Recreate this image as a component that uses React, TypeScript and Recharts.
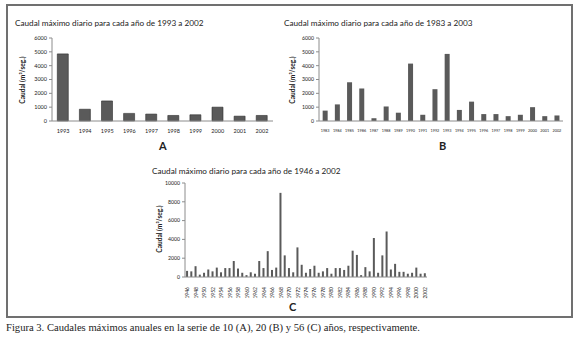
import React from "react"
import { Bar, BarChart, XAxis, YAxis } from "recharts"

// Panel A: 1993-2002
const yearsA = ["1993", "1994", "1995", "1996", "1997", "1998", "1999", "2000", "2001", "2002"]
const valuesA = [4850, 850, 1450, 550, 500, 400, 450, 1000, 350, 400]

// Panel B: 1983-2002
const yearsB = [
  "1983", "1984", "1985", "1986", "1987", "1988", "1989", "1990", "1991", "1992",
  "1993", "1994", "1995", "1996", "1997", "1998", "1999", "2000", "2001", "2002",
]
const valuesB = [750, 1200, 2800, 2350, 200, 1050, 600, 4150, 450, 2300, 4850, 800, 1400, 500, 500, 350, 450, 1000, 350, 400]

// Panel C: 1946-2002
const yearsC = [
  "1946", "1947", "1948", "1949", "1950", "1951", "1952", "1953", "1954", "1955",
  "1956", "1957", "1958", "1959", "1960", "1961", "1962", "1963", "1964", "1965",
  "1966", "1967", "1968", "1969", "1970", "1971", "1972", "1973", "1974", "1975",
  "1976", "1977", "1978", "1979", "1980", "1981", "1982", "1983", "1984", "1985",
  "1986", "1987", "1988", "1989", "1990", "1991", "1992", "1993", "1994", "1995",
  "1996", "1997", "1998", "1999", "2000", "2001", "2002",
]
const valuesC = [
  650, 600, 1150, 250, 450, 800, 600, 1000, 500, 950,
  950, 1700, 900, 450, 200, 500, 350, 1700, 950, 2750,
  750, 1000, 8950, 2300, 950, 500, 3150, 1300, 450, 850,
  1200, 450, 600, 950, 350, 950, 950, 750, 1200, 2800,
  2350, 200, 1050, 600, 4150, 450, 2300, 4850, 800, 1400,
  550, 550, 350, 450, 1000, 350, 400,
]

const ticksAB = [0, 1000, 2000, 3000, 4000, 5000, 6000]
const ticksC = [0, 1000, 2000, 3000, 4000, 5000, 6000, 7000, 8000, 9000, 10000]

const dataA = yearsA.map((year, i) => ({ year, caudal: valuesA[i] }))
const dataB = yearsB.map((year, i) => ({ year, caudal: valuesB[i] }))
const dataC = yearsC.map((year, i) => ({ year, caudal: valuesC[i] }))

const FONT = "Lato, 'Liberation Sans', sans-serif"
const AXIS = "#8c8c8c"
const BAR = "#5a5a5a"
const INK = "#222"

const abs = (left: number, top: number): React.CSSProperties => ({ position: "absolute", left, top })

function Title({ x, y, text }: { x: number; y: number; text: string }) {
  return (
    <div style={{ ...abs(x, y), fontFamily: FONT, fontSize: 8.2, color: INK, whiteSpace: "nowrap", lineHeight: "10px" }}>
      {text}
    </div>
  )
}

function Letter({ x, y, text }: { x: number; y: number; text: string }) {
  return (
    <div style={{ ...abs(x, y), fontFamily: FONT, fontSize: 11, fontWeight: 700, color: INK, lineHeight: "12px" }}>
      {text}
    </div>
  )
}

function YLabel({ x, y }: { x: number; y: number }) {
  // rotated axis title, centred on (x, y)
  return (
    <div
      style={{
        ...abs(x, y),
        transform: "translate(-50%, -50%) rotate(-90deg)",
        fontFamily: FONT,
        fontSize: 6.6,
        fontWeight: 700,
        color: INK,
        whiteSpace: "nowrap",
        lineHeight: "8px",
      }}
    >
      Caudal (m³/seg.)
    </div>
  )
}

const RotatedTick = (props: any) => {
  const { x, y, payload } = props
  return (
    <g transform={`translate(${x},${y + 2})`}>
      <text x={0} y={0} dy={2} textAnchor="end" transform="rotate(-90)" fontSize={5} fontFamily={FONT} fill={INK}>
        {payload.value}
      </text>
    </g>
  )
}

export default function App() {
  return (
    <div style={{ position: "absolute", left: 0, top: 0, width: 580, height: 347, background: "#fff" }}>
      <div
        style={{
          ...abs(6, 4),
          width: 567,
          height: 314,
          boxSizing: "border-box",
          border: "2px solid #707070",
        }}
      />

      {/* A */}
      <Title x={15} y={18} text="Caudal máximo diario para cada año de 1993 a 2002" />
      <YLabel x={22} y={80} />
      <div style={abs(0, 0)}>
        <BarChart width={290} height={160} data={dataA} margin={{ top: 38, right: 17, bottom: 27, left: 0 }} barCategoryGap="24%">
          <XAxis
            dataKey="year"
            height={12}
            stroke={AXIS}
            tickLine={false}
            tick={{ fontSize: 5.5, fill: INK, fontFamily: FONT }}
            tickMargin={2}
            interval={0}
          />
          <YAxis
            width={52}
            domain={[0, 6000]}
            ticks={ticksAB}
            stroke={AXIS}
            tickSize={3}
            tick={{ fontSize: 5.5, fill: INK, fontFamily: FONT }}
          />
          <Bar dataKey="caudal" fill={BAR} stroke="#2e2e2e" strokeWidth={0.6} isAnimationActive={false} />
        </BarChart>
      </div>
      <Letter x={159} y={140} text="A" />

      {/* B */}
      <Title x={284} y={18} text="Caudal máximo diario para cada año de 1983 a 2003" />
      <YLabel x={292} y={80} />
      <div style={abs(280, 0)}>
        <BarChart width={290} height={160} data={dataB} margin={{ top: 38, right: 7, bottom: 27, left: 0 }} barCategoryGap="30%">
          <XAxis
            dataKey="year"
            height={12}
            stroke={AXIS}
            tickLine={false}
            tick={{ fontSize: 3.8, fill: INK, fontFamily: FONT }}
            tickMargin={2}
            interval={0}
          />
          <YAxis
            width={39}
            domain={[0, 6000]}
            ticks={ticksAB}
            stroke={AXIS}
            tickSize={3}
            tick={{ fontSize: 5.2, fill: INK, fontFamily: FONT }}
          />
          <Bar dataKey="caudal" fill={BAR} isAnimationActive={false} />
        </BarChart>
      </div>
      <Letter x={439} y={140} text="B" />

      {/* C */}
      <Title x={152} y={166} text="Caudal máximo diario para cada año de 1946 a 2002" />
      <YLabel x={159} y={229} />
      <div style={abs(130, 155)}>
        <BarChart width={310} height={160} data={dataC} margin={{ top: 28, right: 13, bottom: 13, left: 0 }} barCategoryGap="25%">
          <XAxis dataKey="year" height={25} stroke={AXIS} tickLine={false} tick={RotatedTick} interval={1} />
          <YAxis
            width={55}
            domain={[0, 10000]}
            ticks={ticksC}
            stroke={AXIS}
            tickSize={3}
            tick={{ fontSize: 5.2, fill: INK, fontFamily: FONT }}
          />
          <Bar dataKey="caudal" fill={BAR} isAnimationActive={false} />
        </BarChart>
      </div>
      <Letter x={289} y={301} text="C" />

      <div
        style={{
          ...abs(6, 322),
          fontFamily: "'Liberation Serif', serif",
          fontSize: 10.6,
          color: INK,
          whiteSpace: "nowrap",
          lineHeight: "12px",
        }}
      >
        Figura 3. Caudales máximos anuales en la serie de 10 (A), 20 (B) y 56 (C) años, respectivamente.
      </div>
    </div>
  )
}
